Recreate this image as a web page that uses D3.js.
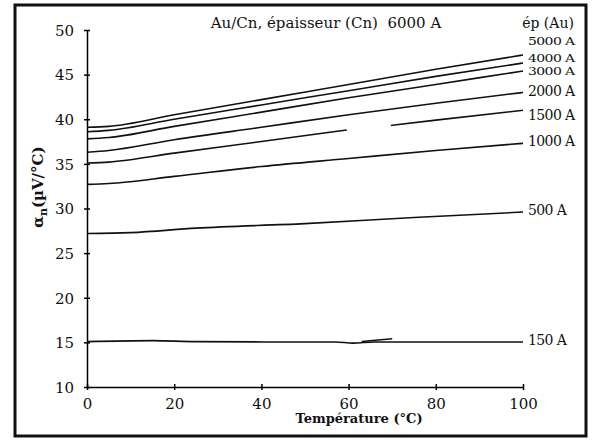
<!DOCTYPE html>
<html>
<head>
<meta charset="utf-8">
<script src="https://cdn.jsdelivr.net/npm/d3@7/dist/d3.min.js"></script>
<style>
  html, body { margin: 0; padding: 0; background: #fff; }
  svg { display: block; }
  text { font-family: "DejaVu Serif", "Liberation Serif", serif; fill: #111; }
</style>
</head>
<body>
<svg id="chart" width="594" height="440"></svg>
<script>
// ---- data ----
const xTicks = [0, 20, 40, 60, 80, 100];
const yTicks = [10, 15, 20, 25, 30, 35, 40, 45, 50];

const thicknessLabels = ["5000 A", "4000 A", "3000 A", "2000 A", "1500 A", "1000 A", "500 A", "150 A"];

const temp5000 = [0, 5, 20, 40, 60, 80, 100];
const val5000  = [39.1, 39.2, 40.5, 42.2, 43.9, 45.6, 47.2];
const temp4000 = [0, 5, 20, 40, 60, 80, 100];
const val4000  = [38.6, 38.75, 40.0, 41.6, 43.2, 44.8, 46.3];
const temp3000 = [0, 5, 20, 40, 60, 80, 100];
const val3000  = [37.8, 37.95, 39.2, 40.8, 42.4, 43.9, 45.4];
const temp2000 = [0, 5, 20, 40, 60, 80, 100];
const val2000  = [36.3, 36.5, 37.7, 39.1, 40.5, 41.8, 43.0];
const temp1500a = [0, 5, 20, 40, 59.6];
const val1500a  = [35.1, 35.2, 36.2, 37.5, 38.8];
const temp1500b = [69.7, 80, 100];
const val1500b  = [39.3, 39.9, 41.0];
const temp1000 = [0, 5, 20, 40, 60, 80, 100];
const val1000  = [32.7, 32.8, 33.6, 34.7, 35.6, 36.5, 37.3];
const temp500  = [0, 10, 25, 50, 75, 100];
const val500   = [27.2, 27.3, 27.8, 28.3, 29.0, 29.6];
const temp150  = [0, 15, 25, 40, 57, 61, 66, 100];
const val150   = [15.08, 15.2, 15.08, 15.05, 15.05, 14.92, 15.05, 15.05];
const temp150b = [63, 70];
const val150b  = [15.1, 15.4];

// label anchor values at the right end (y in data units)
const labelValues = [48.7, 46.8, 45.4, 43.2, 40.5, 37.6, 29.8, 15.2];

// ---- layout ----
const svg = d3.select("#chart");
const x = d3.scaleLinear().domain([0, 100]).range([87, 523]);
const y = d3.scaleLinear().domain([10, 50]).range([387, 30]);

// frame
svg.append("rect")
  .attr("x", 15).attr("y", 5).attr("width", 571).attr("height", 431)
  .attr("fill", "none").attr("stroke", "#111").attr("stroke-width", 3);

// axes
const yAxis = d3.axisLeft(y).tickValues(yTicks).tickSizeInner(3).tickSizeOuter(0).tickPadding(10);
const gy = svg.append("g").attr("transform", `translate(${x(0)},0)`).call(yAxis);
gy.selectAll(".tick line").attr("x1", -3).attr("x2", 3).attr("stroke-width", 1.5);
gy.select(".domain").attr("stroke-width", 1.5);
gy.selectAll("text").style("font-size", "15px").attr("dy", "0.35em");

const xAxis = d3.axisBottom(x).tickValues(xTicks).tickSizeInner(3).tickSizeOuter(0).tickPadding(8);
const gx = svg.append("g").attr("transform", `translate(0,${y(10)})`).call(xAxis);
gx.selectAll(".tick line").attr("y1", -3).attr("y2", 3).attr("stroke-width", 1.5);
gx.select(".domain").attr("stroke-width", 1.5);
gx.selectAll("text").style("font-size", "15px");

// lines
const line = d3.line().x(d => x(d[0])).y(d => y(d[1])).curve(d3.curveMonotoneX);
const series = [
  [temp5000, val5000], [temp4000, val4000], [temp3000, val3000], [temp2000, val2000],
  [temp1500a, val1500a], [temp1500b, val1500b], [temp1000, val1000], [temp500, val500],
  [temp150, val150], [temp150b, val150b]
];
series.forEach(([t, v]) => {
  svg.append("path")
    .datum(t.map((d, i) => [d, v[i]]))
    .attr("d", line)
    .attr("fill", "none")
    .attr("stroke", "#111")
    .attr("stroke-width", 1.6);
});

// right-side labels
const labelCompress = [0.78, 0.78, 0.78, 1, 1, 1, 1, 1];
thicknessLabels.forEach((lab, i) => {
  const ly = y(labelValues[i]);
  svg.append("text")
    .attr("transform", `translate(528,${ly}) scale(1,${labelCompress[i]})`)
    .attr("dy", "0.35em")
    .style("font-size", "14px")
    .style("letter-spacing", "-0.6px")
    .text(lab);
});

// header texts
svg.append("text")
  .attr("x", 326).attr("y", 28)
  .attr("text-anchor", "middle")
  .style("font-size", "15px")
  .style("white-space", "pre")
  .text("Au/Cn, épaisseur (Cn)  6000 A");
svg.append("text")
  .attr("x", 548).attr("y", 28)
  .attr("text-anchor", "middle")
  .style("font-size", "14px")
  .text("ép (Au)");

// axis titles
svg.append("text")
  .attr("x", 359).attr("y", 423)
  .attr("text-anchor", "middle")
  .style("font-size", "13px")
  .style("font-weight", "bold")
  .text("Température (°C)");

const yt = svg.append("text")
  .attr("transform", `translate(43,187) rotate(-90)`)
  .attr("text-anchor", "middle")
  .style("font-size", "15px")
  .style("font-weight", "bold");
yt.append("tspan").text("α");
yt.append("tspan").attr("dy", 4).style("font-size", "11px").text("n");
yt.append("tspan").attr("dy", -4).text("(µV/°C)");
</script>
</body>
</html>
